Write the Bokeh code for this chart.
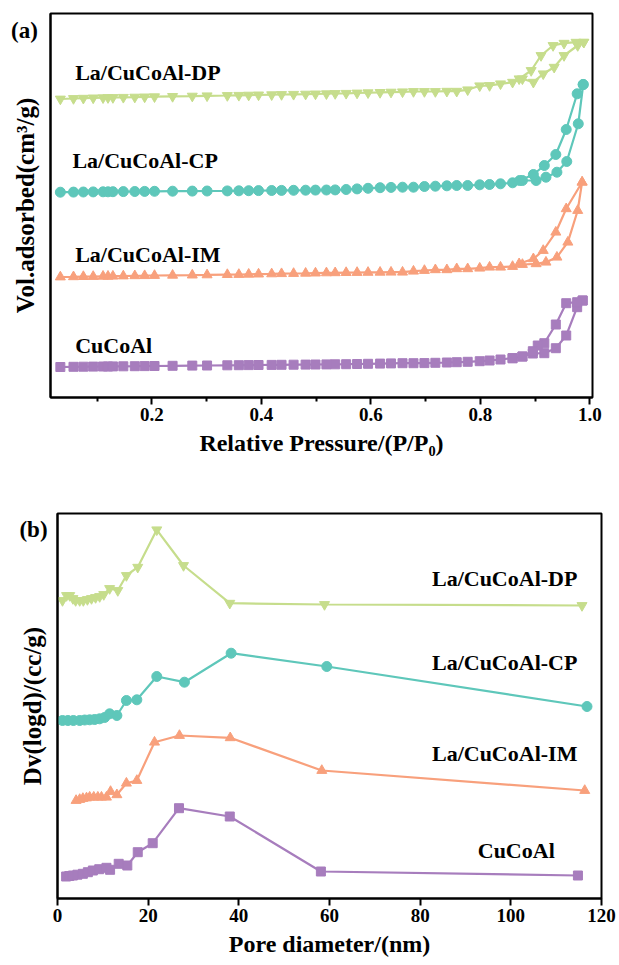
from bokeh.plotting import figure
from bokeh.models import FixedTicker, NumeralTickFormatter, Label
from bokeh.embed import file_html
from bokeh.resources import INLINE

# ---------------- (a) N2 adsorption-desorption isotherms ----------------
# shared relative pressures of the flat low-pressure part of each branch
p_low = [0.033, 0.057, 0.075, 0.093, 0.111, 0.120, 0.129, 0.148, 0.169, 0.187,
         0.205, 0.238, 0.274, 0.301, 0.338, 0.359, 0.377, 0.395, 0.419, 0.437,
         0.459, 0.481, 0.499, 0.519, 0.535, 0.555, 0.575, 0.595, 0.617, 0.637,
         0.658, 0.678, 0.698, 0.718, 0.739, 0.757, 0.777, 0.799, 0.817, 0.837,
         0.859, 0.877]

# CuCoAl
cucoal_v_low = [30.5, 30.7, 30.8, 30.9, 31.0, 31.0, 31.1, 31.2, 31.3, 31.4,
                31.5, 31.7, 31.9, 32.0, 32.2, 32.3, 32.4, 32.5, 32.6, 32.7,
                32.8, 32.9, 33.0, 33.1, 33.2, 33.3, 33.5, 33.7, 33.9, 34.1,
                34.3, 34.3, 34.4, 34.7, 35.0, 35.3, 35.7, 36.3, 37.0, 38.0,
                39.3, 41.0]
cucoal_p_ads = [0.896, 0.917, 0.938, 0.957, 0.977, 0.987]
cucoal_v_ads = [44.0, 44.3, 49.3, 62.0, 90.3, 97.0]
cucoal_p_des = [0.987, 0.977, 0.957, 0.938, 0.917, 0.905, 0.896, 0.877, 0.859]
cucoal_v_des = [97.0, 95.3, 94.3, 73.0, 54.3, 52.0, 46.3, 41.0, 39.3]

# La/CuCoAl-IM
im_v_low = [120.5, 120.7, 120.9, 121.0, 121.2, 121.2, 121.3, 121.5, 121.7, 121.8,
            122.0, 122.2, 122.4, 122.6, 122.9, 123.0, 123.2, 123.4, 123.6, 123.8,
            124.0, 124.2, 124.4, 124.6, 124.7, 124.9, 125.0, 125.1, 125.2, 125.3,
            125.3, 126.3, 127.0, 127.7, 127.7, 128.7, 128.7, 129.3, 130.3, 130.3,
            131.0, 133.0]
im_p_ads = [0.902, 0.920, 0.940, 0.960, 0.978, 0.986]
im_v_ads = [133.7, 135.3, 140.3, 155.3, 187.0, 215.3]
im_p_des = [0.986, 0.957, 0.938, 0.915, 0.897, 0.871]
im_v_des = [215.3, 188.7, 165.3, 147.0, 138.7, 133.7]

# La/CuCoAl-CP
cp_v_low = [205.3, 205.4, 205.5, 205.6, 205.7, 205.7, 205.8, 205.9, 206.0, 206.1,
            206.2, 206.3, 206.4, 206.5, 206.6, 206.7, 206.8, 206.9, 207.0, 207.1,
            207.2, 207.3, 207.4, 207.5, 207.6, 208.0, 208.6, 209.2, 209.8, 210.1,
            210.3, 210.3, 211.0, 211.3, 211.7, 212.0, 212.0, 212.7, 213.0, 213.7,
            214.7, 217.0]
cp_p_ads = [0.902, 0.920, 0.940, 0.958, 0.979, 0.988]
cp_v_ads = [217.0, 220.3, 225.3, 236.0, 273.7, 313.0]
cp_p_des = [0.988, 0.977, 0.957, 0.938, 0.917, 0.897, 0.872]
cp_v_des = [313.0, 303.7, 268.0, 243.0, 232.0, 223.0, 217.0]

# La/CuCoAl-DP
dp_v_low = [298.5, 299.0, 299.3, 299.6, 299.8, 299.9, 300.0, 300.2, 300.4, 300.6,
            300.8, 301.1, 301.4, 301.7, 302.0, 302.2, 302.4, 302.6, 302.8, 303.0,
            303.2, 303.4, 303.6, 303.8, 304.0, 304.2, 304.5, 304.8, 305.1, 305.4,
            305.7, 306.0, 306.0, 306.0, 306.3, 306.3, 307.7, 311.7, 312.0, 313.7,
            315.3, 318.7]
dp_p_ads = [0.897, 0.915, 0.935, 0.953, 0.978, 0.989]
dp_v_ads = [315.3, 323.7, 330.3, 342.0, 352.0, 355.3]
dp_p_des = [0.989, 0.975, 0.953, 0.933, 0.911, 0.893, 0.871]
dp_v_des = [355.3, 355.3, 354.3, 352.0, 342.0, 327.0, 318.7]

# ---------------- (b) BJH pore size distributions ----------------
cucoal_d = [1.9, 2.6, 3.4, 4.4, 5.6, 6.7, 7.8, 9.2, 10.8, 11.6, 13.5, 15.4,
            17.7, 21.0, 26.8, 38.0, 58.1, 114.8]
cucoal_dv = [22.0, 22.5, 23.0, 23.8, 24.7, 26.3, 28.0, 29.3, 30.7, 28.7, 34.7,
             33.0, 46.3, 55.3, 90.3, 82.0, 27.0, 23.0]

im_d = [4.1, 4.9, 5.6, 6.4, 7.1, 8.0, 8.9, 9.7, 10.8, 11.7, 13.1, 15.2, 17.5,
        21.4, 26.9, 38.1, 58.3, 116.3]
im_dv = [98.0, 99.0, 100.0, 100.5, 101.3, 101.3, 101.3, 101.3, 101.3, 107.0,
         103.7, 115.3, 118.0, 156.3, 163.0, 160.7, 128.0, 108.0]

cp_d = [1.1, 2.3, 3.5, 4.9, 6.0, 7.1, 8.2, 9.3, 10.4, 11.5, 13.1, 15.2, 17.5,
        21.9, 28.0, 38.3, 59.4, 116.8]
cp_dv = [178.0, 178.0, 178.0, 178.0, 178.5, 178.7, 179.0, 179.7, 181.0, 184.7,
         183.0, 198.0, 198.7, 222.0, 216.3, 245.3, 232.0, 192.0]

dp_d = [1.1, 2.0, 2.7, 3.4, 4.0, 4.9, 5.7, 6.6, 7.5, 8.4, 9.3, 10.2, 11.5, 13.3,
        15.2, 17.7, 21.9, 27.8, 38.0, 58.9, 115.7]
dp_dv = [298.0, 303.0, 303.0, 300.0, 298.0, 298.0, 298.0, 299.0, 300.0, 301.0,
         302.0, 304.0, 310.0, 308.0, 323.0, 331.3, 368.7, 333.0, 295.3, 294.0, 293.0]

x_ticks_a = [0.2, 0.4, 0.6, 0.8, 1.0]
x_minor_a = [0.1, 0.3, 0.5, 0.7, 0.9]
x_ticks_b = [0, 20, 40, 60, 80, 100, 120]

FONT = "Liberation Serif"
GREEN = "#c6dd8c"
TEAL = "#5ec7ba"
ORANGE = "#f8a07c"
PURPLE = "#a77dbd"


def style(p):
    p.outline_line_color = "black"
    p.outline_line_width = 2
    p.xgrid.visible = False
    p.ygrid.visible = False
    for ax in (p.xaxis[0], p.yaxis[0]):
        ax.axis_line_width = 2
        ax.major_tick_line_width = 2
        ax.minor_tick_line_width = 2
        ax.major_tick_in = 0
        ax.minor_tick_in = 0
        ax.major_label_text_font = FONT
        ax.major_label_text_font_style = "bold"
        ax.major_label_text_font_size = "19px"
        ax.major_label_text_color = "black"
        ax.axis_label_text_font = FONT
        ax.axis_label_text_font_style = "bold"
        ax.axis_label_text_font_size = "24px"
        ax.axis_label_text_color = "black"
    p.xaxis.major_tick_out = 7
    p.xaxis.minor_tick_out = 4
    p.xaxis.major_label_standoff = 3
    p.xaxis.axis_label_standoff = 6
    p.yaxis.ticker = FixedTicker(ticks=[])
    p.yaxis.major_tick_out = 0
    p.yaxis.minor_tick_out = 0
    p.yaxis.major_label_standoff = 0
    p.yaxis.axis_label_text_font_size = "25px"


def label(p, x, y, text, size="22px", align="left"):
    p.add_layout(Label(x=x, y=y, text=text, text_font=FONT, text_font_style="bold",
                       text_font_size=size, text_align=align, text_baseline="middle",
                       text_color="black"))


def tag(sx, sy, text):
    # panel letter in pixels from the lower-left corner of the side panel holding it
    return Label(x=sx, y=sy, x_units="screen", y_units="screen", text=text,
                 text_font=FONT, text_font_style="bold", text_font_size="23px",
                 text_align="center", text_baseline="middle", text_color="black")


# ---- panel (a)
pa = figure(width=619, height=470, min_border_left=50, min_border_right=23,
            min_border_top=13, min_border_bottom=73, x_range=(0.015, 1.005),
            y_range=(0, 384), output_backend="svg", toolbar_location=None)
style(pa)
pa.xaxis.ticker = FixedTicker(ticks=x_ticks_a, minor_ticks=x_minor_a)
pa.xaxis.formatter = NumeralTickFormatter(format="0.0")
pa.xaxis.axis_label = "Relative Pressure/(P/P\u2080)"
pa.yaxis.axis_label = "Vol.adsorbed(cm\u00b3/g)"
pa.yaxis.axis_label_standoff = 12

iso = [
    (cucoal_v_low, cucoal_p_ads, cucoal_v_ads, cucoal_p_des, cucoal_v_des, PURPLE, "square", 9),
    (im_v_low, im_p_ads, im_v_ads, im_p_des, im_v_des, ORANGE, "triangle", 10),
    (cp_v_low, cp_p_ads, cp_v_ads, cp_p_des, cp_v_des, TEAL, "circle", 10),
    (dp_v_low, dp_p_ads, dp_v_ads, dp_p_des, dp_v_des, GREEN, "inverted_triangle", 10),
]
for v_low, p_ads, v_ads, p_des, v_des, color, marker, size in iso:
    xs = p_low + p_ads + p_des
    ys = v_low + v_ads + v_des
    pa.line(xs, ys, line_color=color, line_width=2.2)
    pa.scatter(xs, ys, marker=marker, size=size, fill_color=color, line_color=color)

label(pa, 0.060, 325, "La/CuCoAl-DP")
label(pa, 0.055, 237, "La/CuCoAl-CP")
label(pa, 0.060, 143, "La/CuCoAl-IM")
label(pa, 0.060, 52, "CuCoAl")
# held by the (otherwise empty) right-hand panel, drawn back at the top-left corner
pa.add_layout(tag(-568, 367, "(a)"), "right")

# ---- panel (b)
pb = figure(width=619, height=495, min_border_left=57, min_border_right=18,
            min_border_top=43, min_border_bottom=67, x_range=(0, 120),
            y_range=(0, 385), output_backend="svg", toolbar_location=None)
style(pb)
pb.xaxis.ticker = FixedTicker(ticks=x_ticks_b, minor_ticks=[])
pb.xaxis.axis_label = "Pore diameter/(nm)"
pb.yaxis.axis_label = "Dv(logd)/(cc/g)"
pb.yaxis.axis_label_standoff = 12

psd = [
    (cucoal_d, cucoal_dv, PURPLE, "square", 9),
    (im_d, im_dv, ORANGE, "triangle", 10),
    (cp_d, cp_dv, TEAL, "circle", 10),
    (dp_d, dp_dv, GREEN, "inverted_triangle", 10),
]
for d, dv, color, marker, size in psd:
    pb.line(d, dv, line_color=color, line_width=2.2)
    pb.scatter(d, dv, marker=marker, size=size, fill_color=color, line_color=color)

label(pb, 82.6, 320, "La/CuCoAl-DP")
label(pb, 82.6, 236, "La/CuCoAl-CP")
label(pb, 82.6, 145, "La/CuCoAl-IM")
label(pb, 92.7, 48, "CuCoAl")
pb.add_layout(tag(-24, -16, "(b)"), "above")

open("out.html", "w").write(file_html([pa, pb], INLINE))
